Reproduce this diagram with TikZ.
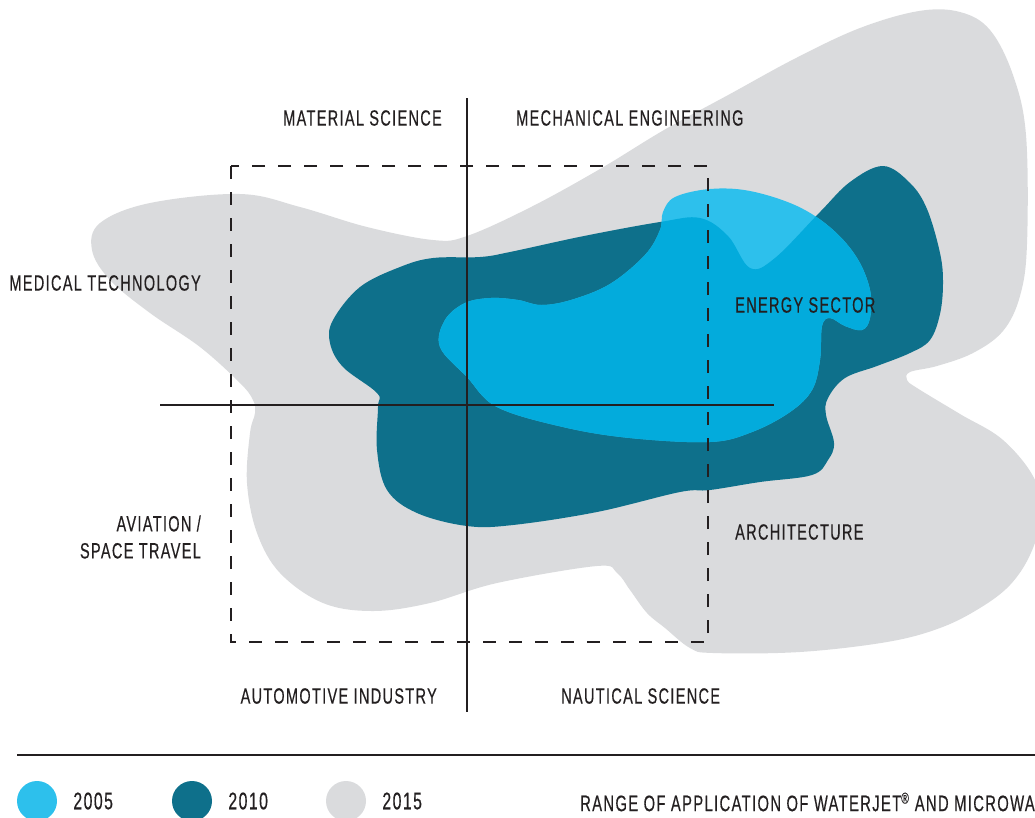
\documentclass[tikz,border=0pt]{standalone}
\usepackage{fontspec}
\setmainfont{Liberation Sans}[FakeStretch=0.66,LetterSpace=6,FakeBold=0.4]
\usepackage{tikz}
\usetikzlibrary{positioning}
\definecolor{lightblue}{HTML}{2DC0EC}
\definecolor{midblue}{HTML}{03ABDC}
\definecolor{petrol}{HTML}{0E708B}
\definecolor{cloud}{HTML}{DADBDD}
\definecolor{ink}{HTML}{231F20}
\tikzset{
  field/.style={font=\fontsize{22}{27}\selectfont, text=ink, inner sep=0pt},
  year/.style={font=\fontsize{24}{28}\selectfont, text=ink, inner sep=0pt},
  dot/.style={circle, minimum size=40pt, inner sep=0pt},
  axisline/.style={draw=ink, line width=1.3pt},
  zonebox/.style={draw=ink, line width=1.8pt, dash pattern=on 13pt off 13pt},
}
\newcommand{\areafifteen}{plot[smooth cycle, tension=0.6] coordinates {
  (92,250) (100,223) (150,203) (240,194) (300,207) (367,227) (433,240)
  (467,236) (531,207) (600,169) (664,130) (730,94) (796,58) (860,28)
  (919,11) (960,12) (990,30) (1013,75) (1026,135) (1027,244) (1020,296)
  (1003,331) (973,353) (937,366) (910,372) (907,380) (917,388) (960,414)
  (1003,440) (1035,480) (1040,520) (1030,555) (1010,585) (980,608)
  (940,628) (887,642) (800,652) (713,653) (690,648) (665,628) (647,613)
  (630,590) (617,573) (597,566) (497,583) (430,603) (373,611) (323,603)
  (280,573) (257,533) (247,483) (250,433) (255,413) (253,400) (240,383)
  (200,347) (150,313) (110,280)}}
\newcommand{\areaten}{plot[smooth cycle, tension=0.6] coordinates {
  (400,267) (433,258) (480,257) (510,252) (584,236) (660,222) (700,218)
  (728,236) (750,268) (775,258) (820,212) (850,182) (883,166) (910,183)
  (927,209) (940,253) (943,283) (940,314) (930,340) (910,353) (877,366)
  (845,378) (828,398) (826,415) (834,443) (828,460) (812,475) (760,482)
  (710,490) (680,492) (597,512) (513,525) (467,526) (417,513) (387,490)
  (377,450) (378,407) (377,393) (343,367) (330,343) (333,320) (360,287)}}
\newcommand{\areafive}{plot[smooth cycle, tension=0.6] coordinates {
  (663,212) (675,197) (710,189) (750,191) (797,206) (832,229) (857,258)
  (870,290) (870,318) (862,330) (845,326) (830,318) (822,326) (820,360)
  (812,390) (790,412) (752,432) (710,442) (630,438) (563,427) (497,407)
  (467,377) (440,347) (445,320) (465,303) (491,298) (518,300) (541,305)
  (571,300) (610,284) (645,255) (660,230)}}

\begin{document}
\begin{tikzpicture}[x=1pt, y=-1pt]
  \useasboundingbox (0,0) rectangle (1035,817);
  \clip (0,0) rectangle (1035,817);

  \fill[cloud] \areafifteen;
  \fill[petrol] \areaten;
  \fill[lightblue] \areafive;
  \begin{scope}
    \clip \areaten;
    \fill[midblue] \areafive;
  \end{scope}

  \coordinate (boxnw) at (231,166);
  \coordinate (boxse) at (708,642);
  \coordinate (vtop) at (467,98);
  \coordinate (vbot) at (467,712);
  \coordinate (hleft) at (160,405);
  \coordinate (hright) at (774,405);
  \coordinate (rulel) at (17,755);
  \coordinate (ruler) at (1040,755);

  \draw[zonebox] (boxnw) rectangle (boxse);
  \draw[axisline] (vtop) -- (vbot);
  \draw[axisline] (hleft) -- (hright);
  \draw[axisline] (rulel) -- (ruler);

  \node[field, anchor=east] (material) at (442,118) {MATERIAL SCIENCE};
  \node[field, anchor=west] (mechanical) at (516,118) {MECHANICAL ENGINEERING};
  \node[field, anchor=east] (medical) at (201,283) {MEDICAL TECHNOLOGY};
  \node[field, anchor=west] (energy) at (735,305) {ENERGY SECTOR};
  \node[field, anchor=east, align=right] (aviation) at (201,537) {AVIATION /\\SPACE TRAVEL};
  \node[field, anchor=west] (architecture) at (735,532) {ARCHITECTURE};
  \node[field, anchor=east] (automotive) at (437,696) {AUTOMOTIVE INDUSTRY};
  \node[field, anchor=west] (nautical) at (561,696) {NAUTICAL SCIENCE};

  \node[dot, fill=lightblue] (c05) at (37,801) {};
  \node[dot, fill=petrol] (c10) at (192,801) {};
  \node[dot, fill=cloud] (c15) at (346,801) {};
  \node[year, right=16pt of c05] (t05) {2005};
  \node[year, right=16pt of c10] (t10) {2010};
  \node[year, right=16pt of c15] (t15) {2015};
  \node[year, font=\fontsize{22.4}{27}\selectfont, anchor=west] (caption) at (580,802) {RANGE OF APPLICATION OF WATERJET\textsuperscript{®} AND MICROWA};
\end{tikzpicture}
\end{document}
